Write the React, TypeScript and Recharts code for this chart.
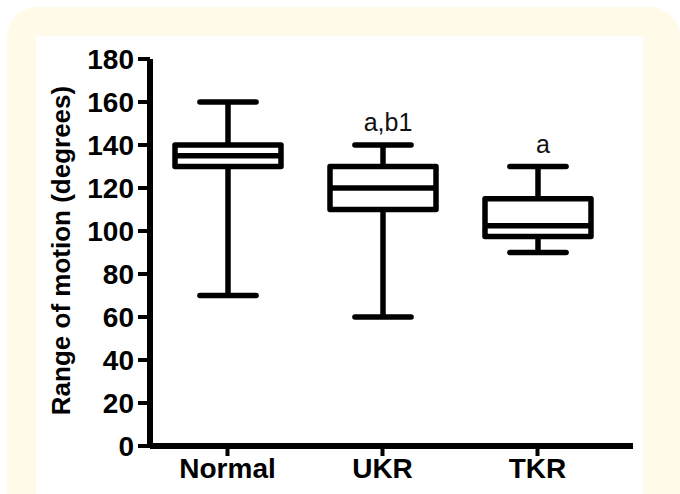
import React from "react";
import { BarChart, Bar, XAxis, YAxis } from "recharts";

const categories = ["Normal", "UKR", "TKR"];
const minValues = [70, 60, 90];
const q1Values = [130, 110, 97.5];
const medianValues = [135, 120, 102.5];
const q3Values = [140, 130, 115];
const maxValues = [160, 140, 130];
const annotations = ["", "a,b1", "a"];
const yTicks = [0, 20, 40, 60, 80, 100, 120, 140, 160, 180];

const data = categories.map((name, i) => ({
  name,
  range: [minValues[i], maxValues[i]],
  min: minValues[i],
  q1: q1Values[i],
  median: medianValues[i],
  q3: q3Values[i],
  max: maxValues[i],
  note: annotations[i],
}));

const FONT = "Arial, 'Liberation Sans', sans-serif";
const SW = 5.5;

const BoxShape = (props: any) => {
  const { x, y, width, height, index } = props;
  const d = props.payload && props.payload.q1 !== undefined ? props.payload : data[index];
  const top = Math.min(y, y + height);
  const bottom = Math.max(y, y + height);
  const px = (v: number) => bottom - ((v - d.min) / (d.max - d.min)) * (bottom - top);
  const cx = x + width / 2;
  const capHalf = width * 0.265;
  const yMax = px(d.max);
  const yMin = px(d.min);
  const yQ1 = px(d.q1);
  const yQ3 = px(d.q3);
  const yMed = px(d.median);
  return (
    <g>
      <line x1={cx} x2={cx} y1={yMax} y2={yQ3} stroke="#000" strokeWidth={SW} />
      <line x1={cx} x2={cx} y1={yQ1} y2={yMin} stroke="#000" strokeWidth={SW} />
      <line x1={cx - capHalf} x2={cx + capHalf} y1={yMax} y2={yMax} stroke="#000" strokeWidth={SW} strokeLinecap="round" />
      <line x1={cx - capHalf} x2={cx + capHalf} y1={yMin} y2={yMin} stroke="#000" strokeWidth={SW} strokeLinecap="round" />
      <rect x={x} y={yQ3} width={width} height={yQ1 - yQ3} fill="#fff" stroke="#000" strokeWidth={SW} strokeLinejoin="round" />
      <line x1={x} x2={x + width} y1={yMed} y2={yMed} stroke="#000" strokeWidth={SW} />
      {d.note ? (
        <text x={cx + 5} y={yMax - 14} textAnchor="middle" fontFamily={FONT} fontSize={25} fill="#111">
          {d.note}
        </text>
      ) : null}
    </g>
  );
};

const YLabel = (props: any) => {
  const vb = props.viewBox || { x: 0, y: 59, width: 150, height: 387 };
  const cx = vb.x + 61;
  const cy = vb.y + vb.height / 2 - 2;
  return (
    <text
      x={cx}
      y={cy}
      transform={`rotate(-90 ${cx} ${cy})`}
      textAnchor="middle"
      dominantBaseline="central"
      fontFamily={FONT}
      fontWeight="bold"
      fontSize={26}
      fill="#000"
    >
      Range of motion (degrees)
    </text>
  );
};

export default function App() {
  return (
    <div style={{ position: "absolute", left: 0, top: 0, width: 680, height: 494, background: "#fff", overflow: "hidden" }}>
      <div
        style={{
          position: "absolute",
          left: 7,
          top: 7,
          width: 673,
          height: 520,
          background: "#fffbe8",
          borderRadius: 30,
        }}
      />
      <div style={{ position: "absolute", left: 36, top: 36, width: 607, height: 480, background: "#fff" }} />
      <div style={{ position: "absolute", left: 0, top: 0 }}>
        <BarChart
          width={680}
          height={494}
          data={data}
          margin={{ top: 59, right: 47, bottom: 8, left: 0 }}
        >
          <XAxis
            dataKey="name"
            height={40}
            padding={{ left: 0, right: 18 }}
            axisLine={{ stroke: "#000", strokeWidth: 6 }}
            tickLine={{ stroke: "#000", strokeWidth: 4 }}
            tickSize={10}
            tickMargin={2}
            tick={{ fill: "#000", fontSize: 28, fontWeight: "bold", fontFamily: FONT }}
            interval={0}
          />
          <YAxis
            type="number"
            domain={[0, 180]}
            ticks={yTicks}
            width={150}
            axisLine={{ stroke: "#000", strokeWidth: 6 }}
            tickLine={{ stroke: "#000", strokeWidth: 4 }}
            tickSize={12}
            tickMargin={4}
            tick={{ fill: "#000", fontSize: 28, fontWeight: "bold", fontFamily: FONT }}
            interval={0}
            label={<YLabel />}
          />
          <Bar dataKey="range" barSize={106} shape={BoxShape} isAnimationActive={false} />
        </BarChart>
      </div>
    </div>
  );
}
